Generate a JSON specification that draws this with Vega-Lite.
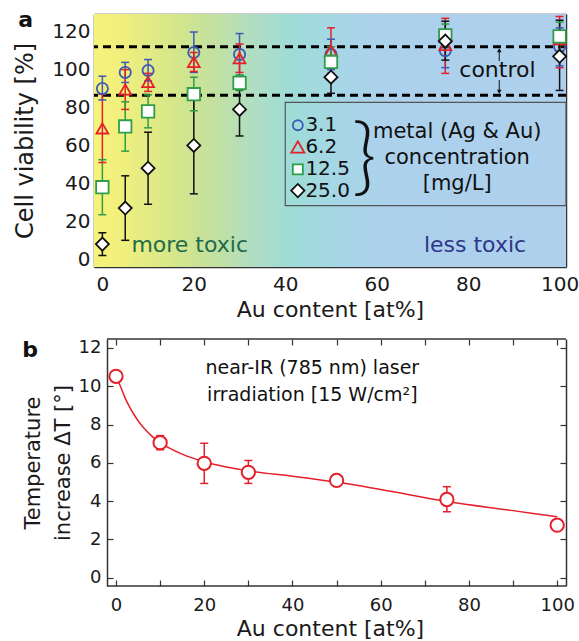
{
  "$schema": "https://vega.github.io/schema/vega-lite/v6.json",
  "background": "white",
  "padding": {"left": 13, "top": 9, "right": 5, "bottom": 2},
  "config": {
    "font": "DejaVu Sans",
    "view": {"stroke": null},
    "axis": {"domainColor": "#333333", "domainWidth": 1.5, "tickColor": "#333333", "tickWidth": 1.2, "tickSize": -6, "labelColor": "#1a1a1a", "titleColor": "#1a1a1a", "titleFontWeight": "normal", "grid": false, "labelFlush": false, "labelOverlap": false}
  },
  "spacing": 18,
  "vconcat": [
    {
      "width": 472,
      "height": 253,
      "data": {"values": [
        {"au": 0, "s": "3.1", "v": 90, "lo": 84, "hi": 96.5},
        {"au": 0, "s": "6.2", "v": 69, "lo": 51, "hi": 87},
        {"au": 0, "s": "12.5", "v": 38, "lo": 23.5, "hi": 52.5},
        {"au": 0, "s": "25.0", "v": 8, "lo": 2, "hi": 14},
        {"au": 5, "s": "3.1", "v": 98.5, "lo": 93.2, "hi": 103.8},
        {"au": 5, "s": "6.2", "v": 89.5, "lo": 79, "hi": 100},
        {"au": 5, "s": "12.5", "v": 70, "lo": 57, "hi": 83},
        {"au": 5, "s": "25.0", "v": 27, "lo": 10, "hi": 44},
        {"au": 10, "s": "3.1", "v": 99.5, "lo": 94, "hi": 105.3},
        {"au": 10, "s": "6.2", "v": 93.5, "lo": 88.5, "hi": 98},
        {"au": 10, "s": "12.5", "v": 78, "lo": 69.3, "hi": 86.7},
        {"au": 10, "s": "25.0", "v": 48, "lo": 29, "hi": 67},
        {"au": 20, "s": "3.1", "v": 109, "lo": 98.5, "hi": 119.8},
        {"au": 20, "s": "6.2", "v": 104, "lo": 99, "hi": 109},
        {"au": 20, "s": "12.5", "v": 87, "lo": 78.3, "hi": 96},
        {"au": 20, "s": "25.0", "v": 60, "lo": 34.5, "hi": 84.5},
        {"au": 30, "s": "3.1", "v": 108, "lo": 97, "hi": 119},
        {"au": 30, "s": "6.2", "v": 106, "lo": 98.5, "hi": 113.5},
        {"au": 30, "s": "12.5", "v": 93, "lo": 89, "hi": 97},
        {"au": 30, "s": "25.0", "v": 79, "lo": 65, "hi": 89.5},
        {"au": 50, "s": "3.1", "v": 108, "lo": 100, "hi": 116},
        {"au": 50, "s": "6.2", "v": 110, "lo": 98, "hi": 122},
        {"au": 50, "s": "12.5", "v": 104, "lo": 96, "hi": 112},
        {"au": 50, "s": "25.0", "v": 96, "lo": 87.5, "hi": 104.5},
        {"au": 75, "s": "3.1", "v": 110, "lo": 101, "hi": 119},
        {"au": 75, "s": "6.2", "v": 113, "lo": 98, "hi": 127},
        {"au": 75, "s": "12.5", "v": 118, "lo": 112, "hi": 124},
        {"au": 75, "s": "25.0", "v": 115, "lo": 105, "hi": 125.5},
        {"au": 100, "s": "3.1", "v": 112, "lo": 102, "hi": 122},
        {"au": 100, "s": "6.2", "v": 116, "lo": 101, "hi": 128},
        {"au": 100, "s": "12.5", "v": 117.5, "lo": 110, "hi": 125},
        {"au": 100, "s": "25.0", "v": 107, "lo": 89, "hi": 126}
      ]},
      "resolve": {"axis": {"x": "independent", "y": "independent"}},
      "layer": [
        {
          "data": {"values": [{}]},
          "mark": {"type": "rect", "stroke": null, "fill": {"gradient": "linear", "x1": 0, "y1": 0, "x2": 1, "y2": 0, "stops": [
            {"offset": 0, "color": "#f6f37b"},
            {"offset": 0.05, "color": "#f2f07c"},
            {"offset": 0.18, "color": "#d3e68c"},
            {"offset": 0.26, "color": "#c2e0a2"},
            {"offset": 0.34, "color": "#afdec4"},
            {"offset": 0.42, "color": "#9edcd8"},
            {"offset": 0.52, "color": "#a6d6e6"},
            {"offset": 0.62, "color": "#acd1ec"},
            {"offset": 1, "color": "#aed0ed"}
          ]}},
          "encoding": {
            "x": {"datum": -1.83, "type": "quantitative", "scale": {"domain": [-1.83, 101.4], "nice": false, "zero": false},
              "axis": {"orient": "bottom", "values": [0, 20, 40, 60, 80, 100], "title": "Au content [at%]", "labelFontSize": 20, "titleFontSize": 22, "labelPadding": 13, "titlePadding": 5}},
            "x2": {"datum": 101.4},
            "y": {"datum": -4.06, "type": "quantitative", "scale": {"domain": [-4.06, 129.3], "nice": false, "zero": false},
              "axis": {"orient": "left", "values": [0, 20, 40, 60, 80, 100, 120], "title": "Cell viability [%]", "labelFontSize": 20, "titleFontSize": 24, "labelPadding": 10, "titlePadding": 14}},
            "y2": {"datum": 129.3}
          }
        },
        {
          "data": {"values": [{"level": 112}, {"level": 86.5}]},
          "mark": {"type": "rule", "color": "#000000", "strokeWidth": 3, "strokeDash": [8, 5]},
          "encoding": {"y": {"field": "level", "type": "quantitative", "axis": null}}
        },
        {
          "data": {"values": [{}]},
          "mark": {"type": "rect", "fill": "transparent", "stroke": "#555555", "strokeWidth": 1.2},
          "encoding": {"x": {"datum": 40, "axis": null}, "x2": {"datum": 101.4}, "y": {"datum": 28.3, "axis": null}, "y2": {"datum": 82.7}}
        },
        {
          "mark": {"type": "rule", "strokeWidth": 1.5},
          "encoding": {
            "x": {"field": "au", "type": "quantitative", "axis": {"orient": "top", "values": [0, 20, 40, 60, 80, 100], "labels": false, "title": null}},
            "y": {"field": "lo", "type": "quantitative", "axis": {"orient": "right", "values": [0, 20, 40, 60, 80, 100, 120], "labels": false, "title": null}},
            "y2": {"field": "hi"},
            "color": {"field": "s", "type": "nominal", "scale": {"domain": ["3.1", "6.2", "12.5", "25.0"], "range": ["#3b5bb5", "#e4202a", "#2e9e48", "#111111"]}, "legend": null}
          }
        },
        {
          "mark": {"type": "tick", "orient": "horizontal", "size": 8, "thickness": 1.5, "opacity": 1},
          "encoding": {
            "x": {"field": "au", "type": "quantitative", "axis": null},
            "y": {"field": "lo", "type": "quantitative", "axis": null},
            "color": {"field": "s", "type": "nominal", "legend": null}
          }
        },
        {
          "mark": {"type": "tick", "orient": "horizontal", "size": 8, "thickness": 1.5, "opacity": 1},
          "encoding": {
            "x": {"field": "au", "type": "quantitative", "axis": null},
            "y": {"field": "hi", "type": "quantitative", "axis": null},
            "color": {"field": "s", "type": "nominal", "legend": null}
          }
        },
        {
          "mark": {"type": "point", "strokeWidth": 1.8, "opacity": 1},
          "encoding": {
            "x": {"field": "au", "type": "quantitative", "axis": null},
            "y": {"field": "v", "type": "quantitative", "axis": null},
            "shape": {"field": "s", "type": "nominal", "scale": {"domain": ["3.1", "6.2", "12.5", "25.0"], "range": ["circle", "triangle-up", "square", "diamond"]}, "legend": null},
            "stroke": {"field": "s", "type": "nominal", "scale": {"domain": ["3.1", "6.2", "12.5", "25.0"], "range": ["#3b5bb5", "#e4202a", "#2e9e48", "#111111"]}, "legend": null},
            "fill": {"field": "s", "type": "nominal", "scale": {"domain": ["3.1", "6.2", "12.5", "25.0"], "range": ["transparent", "transparent", "#ffffff", "#ffffff"]}, "legend": null},
            "size": {"field": "s", "type": "ordinal", "scale": {"domain": ["3.1", "6.2", "12.5", "25.0"], "range": [125, 170, 110, 177]}, "legend": null}
          }
        },
        {
          "data": {"values": [{}]},
          "mark": {"type": "point", "shape": "circle", "size": 100, "strokeWidth": 1.8, "stroke": "#3b5bb5", "fill": "transparent", "opacity": 1},
          "encoding": {"x": {"datum": 42.75, "axis": null}, "y": {"datum": 70.65, "axis": null}}
        },
        {
          "data": {"values": [{}]},
          "mark": {"type": "point", "shape": "triangle-up", "size": 170, "strokeWidth": 1.8, "stroke": "#e4202a", "fill": "transparent", "opacity": 1},
          "encoding": {"x": {"datum": 42.75, "axis": null}, "y": {"datum": 59.2, "axis": null}}
        },
        {
          "data": {"values": [{}]},
          "mark": {"type": "point", "shape": "square", "size": 100, "strokeWidth": 1.8, "stroke": "#2e9e48", "fill": "#ffffff", "opacity": 1},
          "encoding": {"x": {"datum": 42.75, "axis": null}, "y": {"datum": 47.45, "axis": null}}
        },
        {
          "data": {"values": [{}]},
          "mark": {"type": "point", "shape": "diamond", "size": 177, "strokeWidth": 1.8, "stroke": "#111111", "fill": "#ffffff", "opacity": 1},
          "encoding": {"x": {"datum": 42.75, "axis": null}, "y": {"datum": 36.2, "axis": null}}
        },
        {
          "data": {"values": [{}]},
          "mark": {"type": "text", "fontSize": 20, "color": "#111111", "align": "left", "baseline": "middle", "lineHeight": 21.8},
          "encoding": {"x": {"datum": 44.4, "axis": null}, "y": {"datum": 70.65, "axis": null}, "text": {"value": ["3.1", "6.2", "12.5", "25.0"]}}
        },
        {
          "data": {"values": [{}]},
          "mark": {"type": "text", "fontSize": 22, "color": "#1e6a4c", "align": "center", "baseline": "middle"},
          "encoding": {"x": {"datum": 19.1, "axis": null}, "y": {"datum": 7.5, "axis": null}, "text": {"value": "more toxic"}}
        },
        {
          "data": {"values": [{}]},
          "mark": {"type": "text", "fontSize": 22, "color": "#2e3688", "align": "center", "baseline": "middle"},
          "encoding": {"x": {"datum": 81.5, "axis": null}, "y": {"datum": 7.5, "axis": null}, "text": {"value": "less toxic"}}
        },
        {
          "data": {"values": [{}]},
          "mark": {"type": "text", "fontSize": 22, "color": "#111111", "align": "center", "baseline": "middle"},
          "encoding": {"x": {"datum": 86.4, "axis": null}, "y": {"datum": 99.6, "axis": null}, "text": {"value": "control"}}
        },
        {
          "data": {"values": [{}]},
          "mark": {"type": "rule", "color": "#111111", "strokeWidth": 1},
          "encoding": {"x": {"datum": 86.8, "axis": null}, "y": {"datum": 104.5, "axis": null}, "y2": {"datum": 110.5}}
        },
        {
          "data": {"values": [{}]},
          "mark": {"type": "rule", "color": "#111111", "strokeWidth": 1},
          "encoding": {"x": {"datum": 86.8, "axis": null}, "y": {"datum": 94.5, "axis": null}, "y2": {"datum": 88}}
        },
        {
          "data": {"values": [{}]},
          "mark": {"type": "point", "shape": "triangle-up", "filled": true, "color": "#111111", "size": 22, "opacity": 1},
          "encoding": {"x": {"datum": 86.8, "axis": null}, "y": {"datum": 110.2, "axis": null}}
        },
        {
          "data": {"values": [{}]},
          "mark": {"type": "point", "shape": "triangle-down", "filled": true, "color": "#111111", "size": 22, "opacity": 1},
          "encoding": {"x": {"datum": 86.8, "axis": null}, "y": {"datum": 88.3, "axis": null}}
        },
        {
          "data": {"values": [{}]},
          "mark": {"type": "text", "font": "Lato", "fontSize": 84, "fontWeight": 300, "color": "#111111", "align": "center", "baseline": "middle"},
          "encoding": {"x": {"datum": 57.3, "axis": null}, "y": {"datum": 52.1, "axis": null}, "text": {"value": "}"}}
        },
        {
          "data": {"values": [{}]},
          "mark": {"type": "text", "fontSize": 21, "color": "#111111", "align": "center", "baseline": "middle", "lineHeight": 26},
          "encoding": {"x": {"datum": 77.6, "axis": null}, "y": {"datum": 67.3, "axis": null}, "text": {"value": ["metal (Ag & Au)", "concentration", "[mg/L]"]}}
        },
        {
          "data": {"values": [{}]},
          "mark": {"type": "text", "fontSize": 22, "fontWeight": "bold", "color": "#111111", "align": "right", "baseline": "alphabetic", "dx": -61, "dy": 13},
          "encoding": {"x": {"datum": -1.83, "axis": null}, "y": {"datum": 129.3, "axis": null}, "text": {"value": "a"}}
        }
      ]
    },
    {
      "width": 472,
      "height": 247,
      "data": {"values": [
        {"au": 0, "t": 10.52, "lo": null, "hi": null},
        {"au": 10, "t": 7.05, "lo": 6.68, "hi": 7.42},
        {"au": 20, "t": 5.97, "lo": 4.92, "hi": 7.02},
        {"au": 30, "t": 5.5, "lo": 4.92, "hi": 6.12},
        {"au": 50, "t": 5.08, "lo": null, "hi": null},
        {"au": 75, "t": 4.08, "lo": 3.44, "hi": 4.75},
        {"au": 100, "t": 2.74, "lo": null, "hi": null}
      ]},
      "resolve": {"axis": {"x": "independent", "y": "independent"}},
      "layer": [
        {
          "data": {"values": [
            {"au": 0, "t": 10.52}, {"au": 1, "t": 10.0}, {"au": 2, "t": 9.42}, {"au": 3, "t": 8.95},
            {"au": 4, "t": 8.55}, {"au": 5, "t": 8.2}, {"au": 6, "t": 7.9}, {"au": 7, "t": 7.65},
            {"au": 8, "t": 7.42}, {"au": 10, "t": 7.05}, {"au": 12, "t": 6.78}, {"au": 15, "t": 6.45},
            {"au": 20, "t": 6.05}, {"au": 25, "t": 5.78}, {"au": 30, "t": 5.58}, {"au": 40, "t": 5.3},
            {"au": 50, "t": 4.99}, {"au": 60, "t": 4.6}, {"au": 75, "t": 3.98}, {"au": 90, "t": 3.5},
            {"au": 100, "t": 3.18}
          ]},
          "mark": {"type": "line", "color": "#e4202a", "strokeWidth": 1.5, "interpolate": "monotone"},
          "encoding": {
            "x": {"field": "au", "type": "quantitative", "scale": {"domain": [-4.99, 102], "nice": false, "zero": false},
              "axis": {"orient": "bottom", "domain": false, "values": [0, 10, 20, 30, 40, 50, 60, 70, 80, 90, 100], "labelExpr": "datum.value % 20 === 0 ? datum.label : ''", "title": "Au content [at%]", "labelFontSize": 18, "titleFontSize": 22, "labelPadding": 16, "titlePadding": 4}},
            "y": {"field": "t", "type": "quantitative", "scale": {"domain": [-0.44, 12.47], "nice": false, "zero": false},
              "axis": {"orient": "left", "offset": -13, "values": [0, 2, 4, 6, 8, 10, 12], "title": ["Temperature", "increase ΔT [°]"], "labelFontSize": 18, "titleFontSize": 21, "titleLineHeight": 30, "labelPadding": 12, "titlePadding": 5}}
          }
        },
        {
          "mark": {"type": "rule", "color": "#e4202a", "strokeWidth": 1.5},
          "encoding": {
            "x": {"field": "au", "type": "quantitative", "axis": {"orient": "top", "domain": false, "values": [0, 10, 20, 30, 40, 50, 60, 70, 80, 90, 100], "labels": false, "title": null}},
            "y": {"field": "lo", "type": "quantitative", "axis": {"orient": "right", "values": [0, 2, 4, 6, 8, 10, 12], "labels": false, "title": null}},
            "y2": {"field": "hi"}
          }
        },
        {
          "data": {"values": [{}]},
          "mark": {"type": "rule", "color": "#333333", "strokeWidth": 1.5},
          "encoding": {"x": {"datum": -2.04, "axis": null}, "x2": {"datum": 102}, "y": {"datum": -0.44, "axis": null}}
        },
        {
          "data": {"values": [{}]},
          "mark": {"type": "rule", "color": "#333333", "strokeWidth": 1.5},
          "encoding": {"x": {"datum": -2.04, "axis": null}, "x2": {"datum": 102}, "y": {"datum": 12.47, "axis": null}}
        },
        {
          "mark": {"type": "tick", "orient": "horizontal", "size": 8, "thickness": 1.5, "opacity": 1, "color": "#e4202a"},
          "encoding": {"x": {"field": "au", "type": "quantitative", "axis": null}, "y": {"field": "lo", "type": "quantitative", "axis": null}}
        },
        {
          "mark": {"type": "tick", "orient": "horizontal", "size": 8, "thickness": 1.5, "opacity": 1, "color": "#e4202a"},
          "encoding": {"x": {"field": "au", "type": "quantitative", "axis": null}, "y": {"field": "hi", "type": "quantitative", "axis": null}}
        },
        {
          "mark": {"type": "point", "shape": "circle", "size": 177, "strokeWidth": 2, "color": "#e4202a", "fill": "white", "filled": false, "opacity": 1},
          "encoding": {"x": {"field": "au", "type": "quantitative", "axis": null}, "y": {"field": "t", "type": "quantitative", "axis": null}}
        },
        {
          "data": {"values": [{}]},
          "mark": {"type": "text", "fontSize": 19, "color": "#111111", "align": "center", "baseline": "middle", "lineHeight": 27},
          "encoding": {"x": {"datum": 44.5, "axis": null}, "y": {"datum": 10.95, "axis": null}, "text": {"value": ["near-IR (785 nm) laser", "irradiation [15 W/cm²]"]}}
        },
        {
          "data": {"values": [{}]},
          "mark": {"type": "text", "fontSize": 22, "fontWeight": "bold", "color": "#111111", "align": "right", "baseline": "alphabetic", "dx": -56, "dy": 18},
          "encoding": {"x": {"datum": -4.99, "axis": null}, "y": {"datum": 12.47, "axis": null}, "text": {"value": "b"}}
        }
      ]
    }
  ]
}
